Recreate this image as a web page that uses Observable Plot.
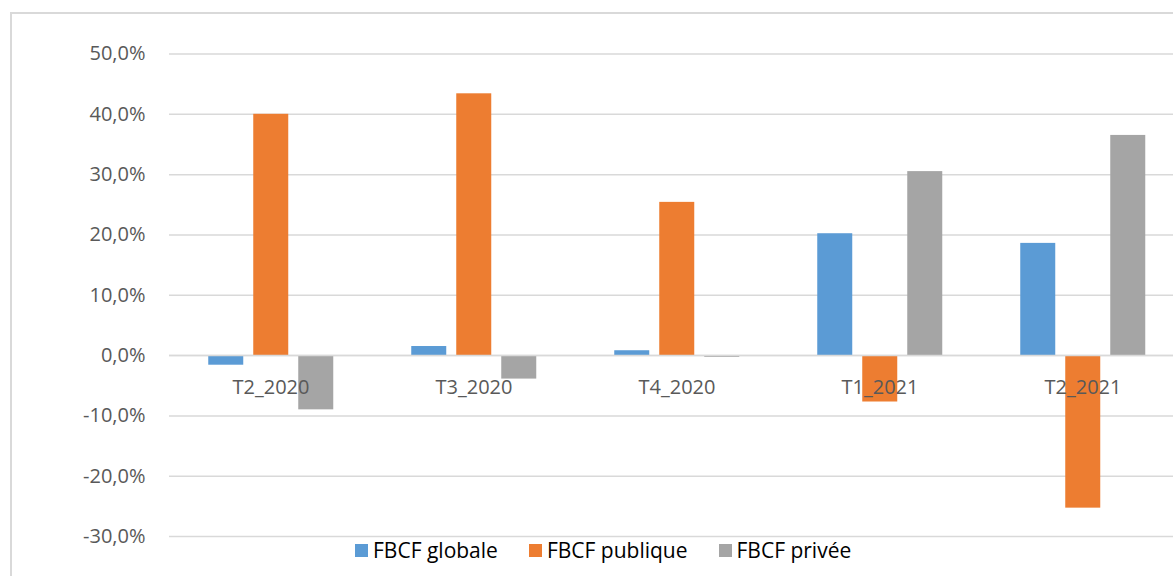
<!DOCTYPE html>
<html>
<head>
<meta charset="utf-8">
<script src="https://cdn.jsdelivr.net/npm/d3@7"></script>
<script src="https://cdn.jsdelivr.net/npm/@observablehq/plot@0.6"></script>
<style>
  html, body { margin: 0; padding: 0; background: #fff; overflow: hidden; }
  #wrap { position: relative; width: 1173px; height: 576px; overflow: hidden; }
  #frame { position: absolute; left: 10px; top: 12px; width: 1300px; height: 700px; border: 2px solid #d9d9d9; box-sizing: border-box; }
  #chart { position: absolute; left: 0; top: 0; width: 1190px; }
  #chart svg { max-width: none !important; }
  #legend { position: absolute; left: 355px; top: 536px; display: flex; align-items: center; font-family: "Open Sans", sans-serif; font-size: 21px; color: #000; white-space: nowrap; }
  .item { display: flex; align-items: center; margin-right: 31px; }
  .sw { width: 13px; height: 13px; margin-right: 5px; }
</style>
</head>
<body>
<div id="wrap">
  <div id="frame"></div>
  <div id="chart"></div>
  <div id="legend"></div>
</div>
<script>
const categories = ["T2_2020", "T3_2020", "T4_2020", "T1_2021", "T2_2021"];
const seriesNames = ["FBCF globale", "FBCF publique", "FBCF privée"];
const fbcfGlobale = [-1.6, 1.5, 0.8, 20.2, 18.6];
const fbcfPublique = [40.0, 43.4, 25.4, -7.7, -25.3];
const fbcfPrivee = [-9.0, -3.9, -0.3, 30.5, 36.5];
const colors = ["#5B9BD5", "#ED7D31", "#A5A5A5"];
const yTicks = [-30, -20, -10, 0, 10, 20, 30, 40, 50];

const seriesValues = [fbcfGlobale, fbcfPublique, fbcfPrivee];
const data = [];
categories.forEach((c, i) => {
  seriesNames.forEach((s, j) => data.push({cat: c, series: s, value: seriesValues[j][i]}));
});

const fmt = d => d.toFixed(1).replace(".", ",") + "%";

const chart = Plot.plot({
  width: 1190,
  height: 576,
  marginLeft: 167.75,
  marginRight: 5,
  marginTop: 53.5,
  marginBottom: 40,
  style: {fontFamily: "Open Sans, sans-serif", fontSize: "20px", color: "#595959", background: "transparent", overflow: "visible", maxWidth: "none"},
  fx: {domain: categories, padding: 0, axis: null},
  x: {domain: seriesNames, paddingInner: 0.22, paddingOuter: 0.846, axis: null},
  y: {domain: [-30, 50], axis: null},
  color: {domain: seriesNames, range: colors},
  marks: [
    Plot.gridY(yTicks, {stroke: "#d9d9d9", strokeOpacity: 1, strokeWidth: 1.5}),
    Plot.barY(data, {fx: "cat", x: "series", y: "value", fill: "series"}),
    Plot.ruleY([0], {stroke: "#d9d9d9", strokeWidth: 1.5}),
    Plot.text(categories, {fx: d => d, text: d => d, y: 0, dy: 32, fill: "#595959", fontSize: 20, lineAnchor: "middle"}),
    Plot.axisY(yTicks, {tickFormat: fmt, tickSize: 0, tickPadding: 24, fontSize: 20, color: "#595959", label: null})
  ]
});
document.getElementById("chart").appendChild(chart);

const legend = document.getElementById("legend");
seriesNames.forEach((s, i) => {
  const it = document.createElement("div");
  it.className = "item";
  const sw = document.createElement("span");
  sw.className = "sw";
  sw.style.background = colors[i];
  const t = document.createElement("span");
  t.textContent = s;
  it.appendChild(sw);
  it.appendChild(t);
  legend.appendChild(it);
});
</script>
</body>
</html>
